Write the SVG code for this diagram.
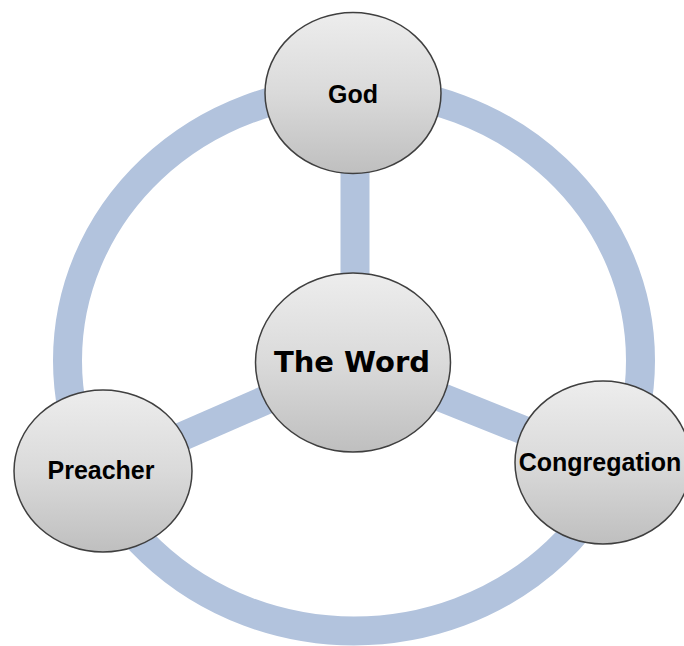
<svg xmlns="http://www.w3.org/2000/svg" width="684" height="646" viewBox="0 0 684 646">
  <defs>
    <linearGradient id="nodeFill" x1="0" y1="0" x2="0" y2="1">
      <stop offset="0" stop-color="#ededed"/>
      <stop offset="0.5" stop-color="#dadada"/>
      <stop offset="1" stop-color="#bfbfbf"/>
    </linearGradient>
  </defs>
  <style>
    .link { fill: none; stroke: #b2c3dd; stroke-width: 29; }
    .node { fill: url(#nodeFill); stroke: #3f3f3f; stroke-width: 1.5; }
    .lbl { font-family: "Liberation Sans", Arial, sans-serif; font-weight: bold; font-size: 25px; fill: #000; text-anchor: middle; }
    .main { font-family: "DejaVu Sans", Verdana, sans-serif; font-weight: bold; font-size: 29px; fill: #000; text-anchor: middle; }
  </style>
  <rect width="684" height="646" fill="#ffffff"/>
  <g id="connectors">
    <ellipse class="link" cx="354" cy="360.5" rx="286.5" ry="270.5"/>
    <line class="link" x1="355" y1="93" x2="355" y2="362"/>
    <line class="link" x1="353" y1="362" x2="103" y2="471"/>
    <line class="link" x1="353" y1="362" x2="603" y2="462"/>
  </g>
  <g id="god">
    <ellipse class="node" cx="353" cy="93" rx="88" ry="80.5"/>
    <text class="lbl" x="353" y="103">God</text>
  </g>
  <g id="the-word">
    <ellipse class="node" cx="353" cy="362.5" rx="97.5" ry="89.5"/>
    <text class="main" x="352" y="372">The Word</text>
  </g>
  <g id="preacher">
    <ellipse class="node" cx="103" cy="471" rx="89" ry="81"/>
    <text class="lbl" x="101" y="479">Preacher</text>
  </g>
  <g id="congregation">
    <ellipse class="node" cx="603" cy="462.5" rx="88" ry="81.5"/>
    <text class="lbl" x="600" y="471">Congregation</text>
  </g>
</svg>
